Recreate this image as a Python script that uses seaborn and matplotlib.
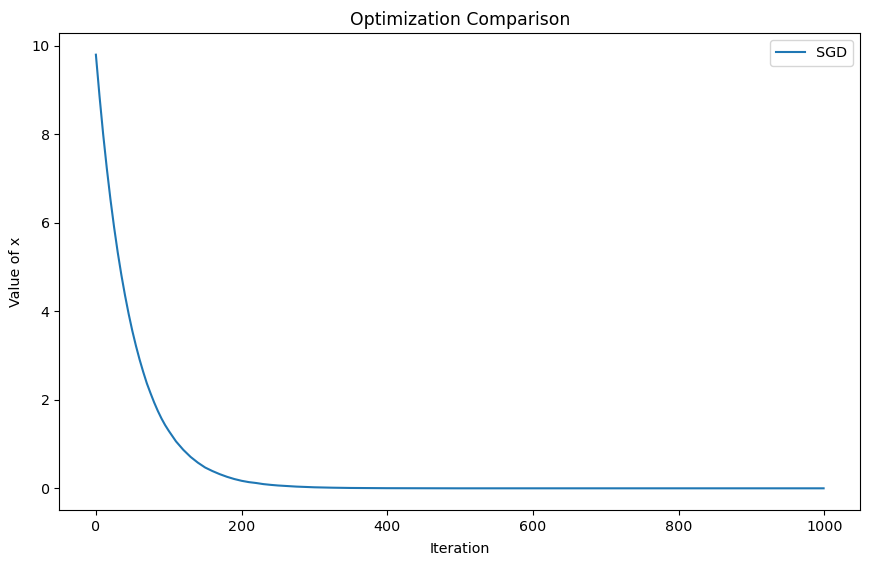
import matplotlib
matplotlib.use("Agg")
import matplotlib.pyplot as plt
import seaborn as sns
import pandas as pd

iterations = [0, 5, 10, 15, 20, 25, 30, 35, 40, 45, 50, 55, 60, 65, 70, 75, 80, 85,
              90, 95, 100, 110, 120, 130, 140, 150, 160, 170, 180, 190, 200, 210,
              220, 230, 240, 250, 275, 300, 325, 350, 400, 500, 600, 700, 800, 900, 999]
x_values = [9.80, 8.86, 8.00, 7.23, 6.53, 5.90, 5.33, 4.82, 4.36, 3.94, 3.56, 3.22,
            2.91, 2.63, 2.37, 2.15, 1.94, 1.75, 1.58, 1.43, 1.30, 1.06, 0.87, 0.71,
            0.58, 0.47, 0.39, 0.32, 0.26, 0.21, 0.17, 0.14, 0.12, 0.095, 0.078,
            0.064, 0.039, 0.023, 0.014, 0.008, 0.003, 0.0, 0.0, 0.0, 0.0, 0.0, 0.0]
series_name = "SGD"

df = pd.DataFrame({"Iteration": iterations, "Value of x": x_values,
                   "Method": [series_name] * len(iterations)})

plt.rcParams["font.size"] = 10.3
fig, ax = plt.subplots(figsize=(8.69, 5.65), dpi=100)
fig.subplots_adjust(left=59.5 / 869, right=860 / 869, top=1 - 33 / 565, bottom=1 - 510 / 565)

sns.lineplot(data=df, x="Iteration", y="Value of x", hue="Method",
             palette=["#1f77b4"], linewidth=1.5, ax=ax)
ax.legend(loc="upper right")
ax.set_title("Optimization Comparison", fontsize=12.4)
ax.set_xlabel("Iteration", labelpad=6)
ax.set_ylabel("Value of x", labelpad=6)

fig.savefig("out.png", dpi=100)
